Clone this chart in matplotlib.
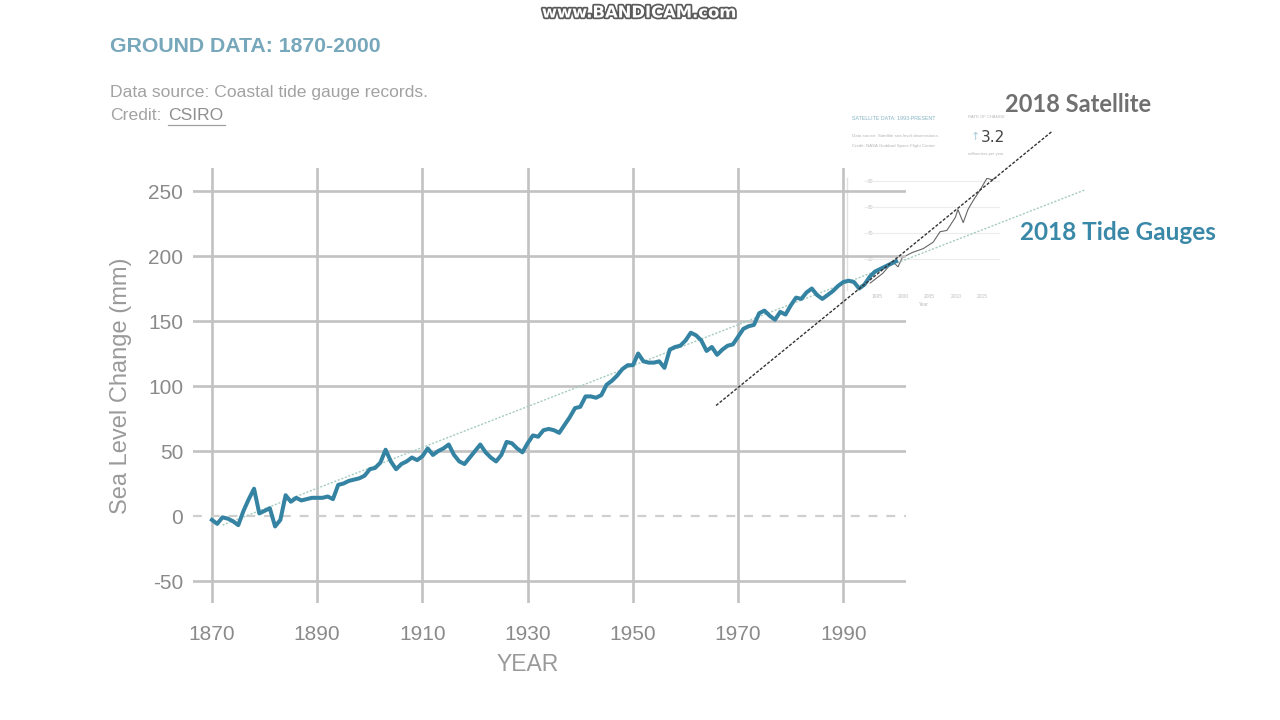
import matplotlib
matplotlib.use("Agg")
import matplotlib.pyplot as plt
import matplotlib.patheffects as pe
from matplotlib.lines import Line2D

# tide gauge record (CSIRO), mm relative to 1870
years = list(range(1870, 2001))
sea_level = [-3, -6, -1, -2, -4, -7, 4, 13, 21, 2,
             4, 6, -8, -3, 16, 11, 14, 12, 13, 14,
             14, 14, 15, 13, 24, 25, 27, 28, 29, 31,
             36, 37, 41, 51, 42, 36, 40, 42, 45, 43,
             46, 52, 47, 50, 52, 55, 47, 42, 40, 45,
             50, 55, 49, 45, 42, 47, 57, 56, 52, 49,
             56, 62, 61, 66, 67, 66, 64, 70, 76, 83,
             84, 92, 92, 91, 93, 101, 104, 108, 113, 116,
             116, 125, 119, 118, 118, 119, 114, 128, 130, 131,
             135, 141, 139, 135, 127, 130, 124, 128, 131, 132,
             138, 144, 146, 147, 156, 158, 154, 151, 157, 155,
             162, 168, 167, 172, 175, 170, 167, 170, 173, 177,
             180, 181, 180, 175, 178, 184, 188, 190, 192, 194,
             196]

# trend lines drawn over the chart
tide_trend_years = [1872, 2036]
tide_trend_mm = [-7, 251]
sat_trend_years = [1965.8, 2029.7]
sat_trend_mm = [85, 296]

# small satellite chart pasted in the corner
sat_years = [1993.7, 1996.1, 1998.0, 1999.0, 1999.8, 2001.7, 2003.8, 2005.7,
             2007.0, 2008.3, 2009.9, 2010.4, 2011.4, 2012.3, 2013.3, 2014.6,
             2015.9, 2016.9, 2017.9]
sat_mm = [1.5, 9, 18, 14, 21, 25, 28, 33, 41, 42, 52, 58, 48, 58, 65, 73, 82, 81, 83]
sat_xticks = [1995, 2000, 2005, 2010, 2015]
sat_yticks = [20, 40, 60, 80]

xticks = [1870, 1890, 1910, 1930, 1950, 1970, 1990]
yticks = [-50, 0, 50, 100, 150, 200, 250]

W, H = 1280, 720
plt.rcParams['font.family'] = ['Liberation Sans', 'DejaVu Sans']
plt.rcParams['axes.unicode_minus'] = False

def fx(px):
    return px / W

def fy(py):
    return 1 - py / H

fig = plt.figure(figsize=(12.8, 7.2), dpi=100)
fig.patch.set_facecolor('white')

# inset first so it sits below the main chart
ax_in = fig.add_axes([fx(847), fy(290), (1000 - 847) / W, (290 - 178) / H])
ax_in.set_zorder(0)
ax_in.set_xlim(1989.3, 2018.4)
ax_in.set_ylim(-3.8, 82.3)
for s in ['top', 'right', 'bottom']:
    ax_in.spines[s].set_visible(False)
ax_in.spines['left'].set_color('#e2e2e2')
ax_in.spines['left'].set_linewidth(1.0)
ax_in.hlines(sat_yticks, 1992.5, 2018.4, color='#ececec', lw=0.8)
ax_in.set_yticks(sat_yticks)
ax_in.set_yticklabels([str(v) for v in sat_yticks])
ax_in.tick_params(axis='y', length=0, pad=-15, labelsize=3.5, labelcolor='#bdbdbd')
for t in ax_in.get_yticklabels():
    t.set_ha('left')
ax_in.set_xticks(sat_xticks)
ax_in.tick_params(axis='x', length=0, pad=3, labelsize=3.5, labelcolor='#bdbdbd')
ax_in.set_xlabel('Year', fontsize=3.5, color='#bdbdbd', labelpad=2)
ax_in.plot(sat_years, sat_mm, color='#666666', lw=0.8)
ax_in.patch.set_alpha(0)

fig.text(fx(852), fy(118), 'SATELLITE DATA: 1993-PRESENT', fontsize=3.8, color='#86b4c4', va='center')
fig.text(fx(852), fy(136), 'Data source: Satellite sea level observations.', fontsize=3.2, color='#b5b5b5', va='center')
fig.text(fx(852), fy(146), 'Credit: NASA Goddard Space Flight Center', fontsize=3.2, color='#b5b5b5', va='center')
fig.text(fx(986), fy(117), 'RATE OF CHANGE', fontsize=3, color='#b5b5b5', ha='center', va='center')
fig.text(fx(975), fy(137), '↑', fontsize=8, color='#a8ccd8', ha='center', va='center', family='DejaVu Sans')
fig.text(fx(993), fy(138), '3.2', fontsize=11, color='#444444', ha='center', va='center', family='DejaVu Sans Condensed')
fig.text(fx(986), fy(154), 'millimeters per year', fontsize=3, color='#b5b5b5', ha='center', va='center')

# main chart
ax = fig.add_axes([fx(193), fy(603), (906 - 193) / W, (603 - 168) / H])
ax.set_zorder(1)
ax.patch.set_alpha(0)
ax.set_xlim(1866.4, 2001.9)
ax.set_ylim(-66.9, 267.7)
for s in ax.spines.values():
    s.set_visible(False)
ax.set_xticks(xticks)
ax.set_yticks(yticks)
ax.grid(True, color='#c2c2c2', lw=1.9)
ax.set_axisbelow(True)
gl = ax.yaxis.get_gridlines()
zi = yticks.index(0)
gl[zi].set_linestyle((0, (4, 4)))
gl[zi].set_color('#cfcfcf')
gl[zi].set_linewidth(1.6)
ax.tick_params(length=0, labelsize=15, labelcolor='#8a8a8a')
ax.tick_params(axis='y', pad=7)
ax.tick_params(axis='x', pad=16)

ax.set_ylabel('Sea Level Change (mm)', fontsize=17, color='#9a9a9a')
ax.yaxis.set_label_coords(-0.086, 0.5)
ax.set_xlabel('YEAR', fontsize=16.5, color='#9a9a9a')
ax.xaxis.set_label_coords(0.47, -0.1425)
ax.xaxis.label.set_va('center')

ax.plot(tide_trend_years, tide_trend_mm, color='#a5cbbf', lw=1.0, ls=(0, (1.5, 1.2)),
        clip_on=False, zorder=3)
ax.plot(years, sea_level, color='#3583a3', lw=2.9, zorder=4, solid_joinstyle='round')
ax.plot(sat_trend_years, sat_trend_mm, color='#333333', lw=1.0, ls=(0, (2.2, 1.2)),
        clip_on=False, zorder=5)

# header texts
fig.text(fx(110), fy(47), 'GROUND DATA: 1870-2000', fontsize=15.3, fontweight='bold',
         color='#76a7ba', va='center')
fig.text(fx(110), fy(92), 'Data source: Coastal tide gauge records.', fontsize=12.6,
         color='#a2a2a2', va='center')
fig.text(fx(110), fy(116), 'Credit:', fontsize=12.6, color='#a2a2a2', va='center')
fig.text(fx(168), fy(116), 'CSIRO', fontsize=12.6, color='#8f8f8f', va='center')
fig.add_artist(Line2D([fx(168), fx(225)], [fy(125), fy(125)], color='#a0a0a0', lw=0.9))

fig.text(fx(1005), fy(104), '2018 Satellite', fontsize=17, fontweight='bold',
         color='#707070', va='center', family='Lato')
fig.text(fx(1020), fy(232), '2018 Tide Gauges', fontsize=17.5, fontweight='bold',
         color='#3a88a8', va='center', family='Lato')

# screen recorder watermark
fig.text(fx(639), fy(13), 'www.BANDICAM.com', fontsize=11.8, fontweight='bold',
         color='white', ha='center', va='center', family='DejaVu Sans',
         path_effects=[pe.withStroke(linewidth=2.5, foreground='#5a5a5a')])

fig.savefig('out.png', dpi=100)
